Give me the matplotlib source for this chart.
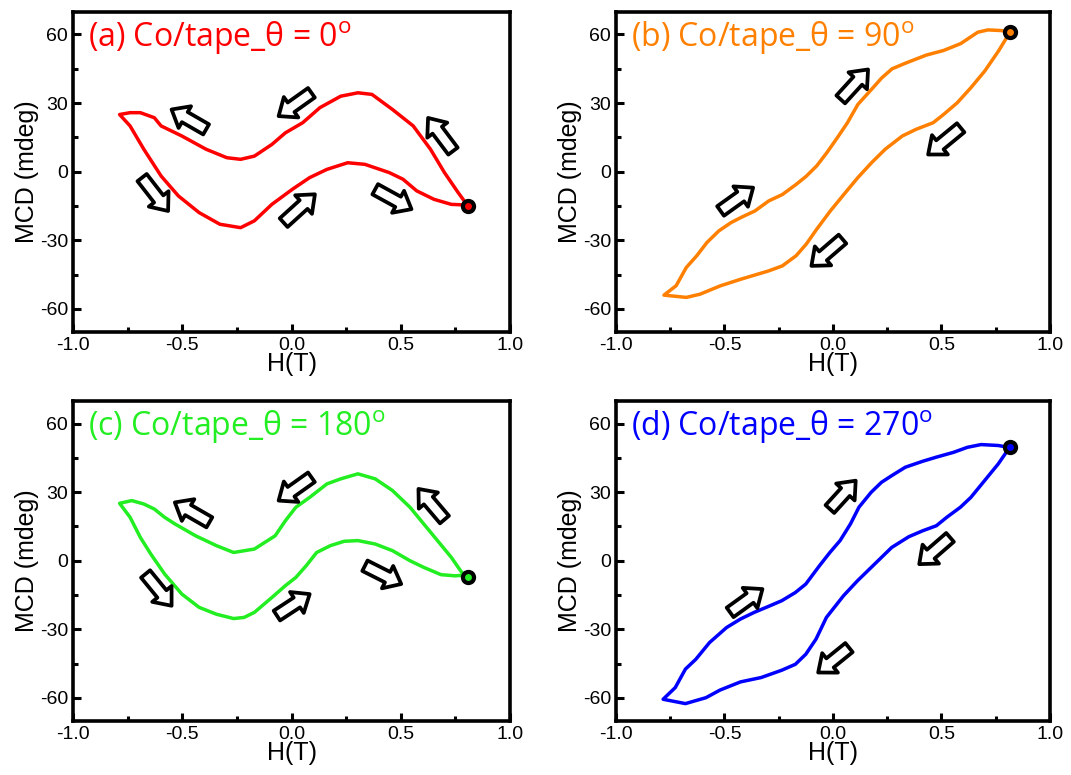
import numpy as np
import matplotlib
matplotlib.use("Agg")
import matplotlib.pyplot as plt
from matplotlib.ticker import MultipleLocator, FormatStrFormatter

plt.rcParams['font.family'] = ['Liberation Sans', 'DejaVu Sans']
plt.rcParams['axes.unicode_minus'] = False
plt.rcParams['mathtext.fontset'] = 'custom'
plt.rcParams['mathtext.rm'] = 'Open Sans'

# (a) theta = 0 : loop starting at the marker, going left along the top, back along the bottom
h_a = [0.802, 0.763, 0.70, 0.636, 0.557, 0.462, 0.368, 0.304, 0.225, 0.13, 0.051, -0.028,
       -0.09, -0.17, -0.233, -0.296, -0.391, -0.502, -0.597, -0.628, -0.692, -0.739, -0.787,
       -0.739, -0.676, -0.597, -0.518, -0.423, -0.328, -0.233, -0.17, -0.09, 0.004, 0.083,
       0.162, 0.257, 0.336, 0.447, 0.51, 0.573, 0.652, 0.731, 0.802]
m_a = [-14.3, -9.2, -0.4, 9.8, 20.0, 27.2, 33.8, 34.5, 33.0, 28.0, 21.4, 17.0,
       11.9, 6.8, 5.4, 6.1, 9.8, 15.6, 20.0, 23.6, 25.8, 25.8, 25.0,
       20.0, 9.8, -1.9, -10.6, -17.9, -23.0, -24.5, -21.5, -14.3, -7.7, -2.6,
       1.0, 3.9, 3.2, -0.4, -3.3, -8.4, -12.1, -14.3, -14.6]

# (b) theta = 90
h_b = [0.81, 0.78, 0.715, 0.668, 0.589, 0.51, 0.431, 0.336, 0.273, 0.225, 0.178, 0.115,
       0.067, 0.02, -0.028, -0.075, -0.123, -0.17, -0.233, -0.296, -0.36, -0.423, -0.47,
       -0.526, -0.581, -0.628, -0.676, -0.723, -0.779,
       -0.676, -0.613, -0.518, -0.423, -0.296, -0.233, -0.17, -0.123, -0.075, -0.012,
       0.051, 0.115, 0.178, 0.241, 0.32, 0.383, 0.462, 0.51, 0.573, 0.636, 0.70, 0.763, 0.81]
m_b = [61.0, 61.7, 62.0, 61.0, 56.0, 53.0, 51.0, 47.5, 45.0, 41.0, 36.0, 29.4,
       21.4, 14.8, 8.3, 2.5, -2.0, -5.6, -10.0, -12.8, -17.2, -20.0, -22.3,
       -25.9, -31.0, -36.8, -41.9, -49.9, -54.0,
       -55.0, -53.6, -49.9, -47.0, -43.4, -41.2, -36.8, -31.7, -25.2, -17.2,
       -9.9, -2.6, 3.9, 9.8, 15.6, 18.5, 21.4, 25.0, 30.1, 36.7, 44.0, 52.7, 60.0]

# (c) theta = 180
h_c = [0.802, 0.779, 0.731, 0.668, 0.605, 0.542, 0.462, 0.383, 0.304, 0.225, 0.162, 0.083,
       0.02, -0.028, -0.075, -0.17, -0.265, -0.344, -0.439, -0.534, -0.581, -0.628, -0.676,
       -0.731, -0.787,
       -0.739, -0.692, -0.644, -0.581, -0.502, -0.423, -0.344, -0.265, -0.217, -0.17, -0.09,
       -0.028, 0.02, 0.067, 0.115, 0.178, 0.241, 0.304, 0.383, 0.462, 0.542, 0.605, 0.684,
       0.747, 0.802]
m_c = [-6.5, -5.1, 1.5, 8.8, 16.1, 23.4, 30.7, 35.8, 38.0, 35.8, 33.6, 27.7,
       23.4, 17.5, 10.9, 5.1, 3.6, 6.6, 10.9, 16.1, 19.0, 22.6, 24.8,
       26.3, 25.1,
       19.0, 10.2, 2.9, -5.8, -14.6, -20.4, -23.4, -25.3, -24.8, -22.6, -16.1,
       -10.9, -7.3, -2.2, 3.6, 6.6, 8.5, 8.8, 7.3, 4.4, 0.0, -2.9, -6.1,
       -6.6, -6.3]

# (d) theta = 270
h_d = [0.81, 0.762, 0.683, 0.62, 0.556, 0.477, 0.414, 0.334, 0.271, 0.224, 0.176, 0.12,
       0.081, 0.033, -0.014, -0.062, -0.125, -0.173, -0.236, -0.30, -0.363, -0.426, -0.49,
       -0.569, -0.632, -0.68, -0.727, -0.783,
       -0.68, -0.585, -0.521, -0.426, -0.331, -0.236, -0.173, -0.125, -0.078, -0.03, 0.049,
       0.113, 0.192, 0.271, 0.35, 0.414, 0.477, 0.525, 0.588, 0.636, 0.699, 0.762, 0.81]
m_d = [49.6, 50.4, 50.8, 49.6, 47.4, 45.3, 43.5, 40.9, 37.2, 34.3, 29.9, 23.4,
       16.1, 8.8, 3.6, -2.2, -10.2, -13.9, -17.5, -20.1, -22.6, -25.5, -29.2,
       -35.8, -43.1, -47.4, -55.5, -60.6,
       -62.5, -59.9, -56.6, -53.0, -51.1, -47.9, -45.3, -40.9, -34.3, -24.8, -15.3,
       -8.8, -1.5, 5.8, 10.5, 13.1, 15.3, 19.0, 23.4, 27.7, 35.0, 42.3, 48.9]

# start points (circled)
start_h = [0.81, 0.818, 0.81, 0.818]
start_m = [-15.0, 61.0, -7.0, 49.6]

# sweep-direction arrows: (tail_h, tail_m, head_h, head_m)
arrows_a = [(-0.391, 18.5, -0.549, 27.2), (0.091, 34.5, -0.059, 24.3), (0.739, 9.0, 0.625, 23.5),
            (-0.684, -2.6, -0.565, -17.2), (-0.036, -22.3, 0.107, -9.9), (0.383, -7.7, 0.549, -16.4)]
arrows_b = [(0.036, 31.6, 0.162, 44.7), (-0.518, -17.2, -0.368, -7.0),
            (0.589, 19.2, 0.439, 7.5), (0.044, -29.5, -0.099, -41.2)]
arrows_c = [(-0.376, 16.8, -0.534, 25.5), (0.091, 36.5, -0.059, 26.3), (0.70, 18.0, 0.581, 31.4),
            (-0.668, -5.8, -0.549, -19.7), (-0.067, -24.0, 0.083, -14.6), (0.336, -2.2, 0.502, -10.2)]
arrows_d = [(-0.014, 22.6, 0.105, 35.0), (-0.474, -22.6, -0.325, -12.4),
            (0.54, 10.2, 0.398, -1.5), (0.074, -38.0, -0.068, -48.9)]

labels = ['(a) Co/tape_θ = 0', '(b) Co/tape_θ = 90', '(c) Co/tape_θ = 180', '(d) Co/tape_θ = 270']
colors = ['#ff0000', '#ff8000', '#22ee22', '#0000ff']

fig = plt.figure(figsize=(10.71, 7.75), dpi=100)
positions = [[0.0682, 0.572, 0.408, 0.413], [0.5752, 0.572, 0.405, 0.413],
             [0.0682, 0.070, 0.408, 0.413], [0.5752, 0.070, 0.405, 0.413]]
hs = [h_a, h_b, h_c, h_d]
ms = [m_a, m_b, m_c, m_d]
arrs = [arrows_a, arrows_b, arrows_c, arrows_d]

for i in range(4):
    ax = fig.add_axes(positions[i])
    h = list(hs[i]) + [hs[i][0]]
    m = list(ms[i]) + [ms[i][0]]
    ax.plot(h, m, color=colors[i], lw=2.5, solid_joinstyle='round')
    ax.plot(start_h[i], start_m[i], 'o', ms=8, mfc=colors[i], mec='black', mew=3)
    for (x0, y0, x1, y1) in arrs[i]:
        ax.annotate('', xy=(x1, y1), xytext=(x0, y0),
                    arrowprops=dict(arrowstyle='simple,head_length=0.55,head_width=0.9,tail_width=0.42',
                                    fc='white', ec='black', lw=2.7, mutation_scale=20,
                                    shrinkA=0, shrinkB=0))
    ax.text(0.034, 0.915, labels[i] + r'$^{\mathrm{o}}$', transform=ax.transAxes,
            color=colors[i], fontsize=23, family=['Open Sans', 'DejaVu Sans'], va='center')
    ax.set_xlim(-1, 1)
    ax.set_ylim(-70, 70)
    ax.xaxis.set_major_locator(MultipleLocator(0.5))
    ax.xaxis.set_minor_locator(MultipleLocator(0.25))
    ax.xaxis.set_major_formatter(FormatStrFormatter('%.1f'))
    ax.yaxis.set_major_locator(MultipleLocator(30))
    ax.yaxis.set_minor_locator(MultipleLocator(15))
    ax.tick_params(which='both', direction='in', width=2.2, labelsize=14)
    ax.tick_params(which='major', length=6)
    ax.tick_params(which='minor', length=3.5)
    for s in ax.spines.values():
        s.set_linewidth(2.6)
    ax.set_xlabel('H(T)', fontsize=18, labelpad=-1)
    ax.set_ylabel('MCD (mdeg)', fontsize=18, labelpad=1)

plt.savefig('out.png', dpi=100)
